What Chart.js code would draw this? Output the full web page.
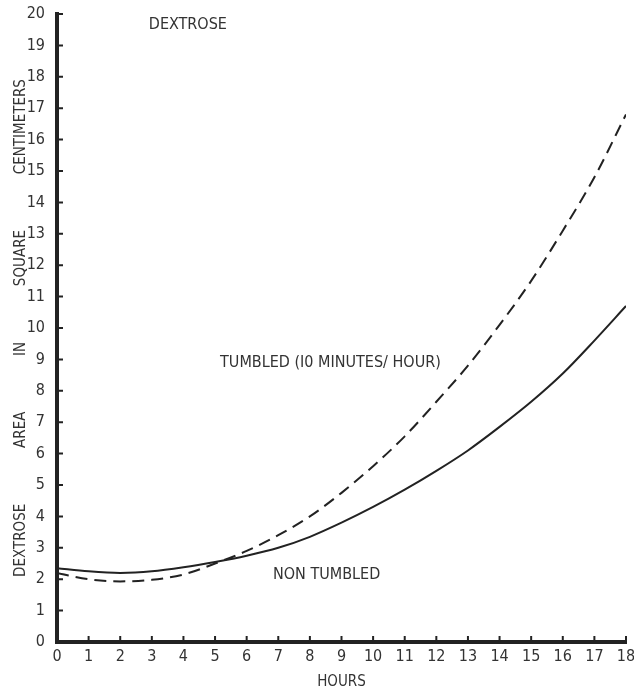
<!DOCTYPE html>
<html>
<head>
<meta charset="utf-8">
<title>Dextrose area</title>
<script src="https://cdn.jsdelivr.net/npm/chart.js@4.4.1/dist/chart.umd.min.js"></script>
<style>
  html, body { margin: 0; padding: 0; background: #fff; }
  #wrap { width: 634px; height: 691px; }
</style>
</head>
<body>
<div id="wrap"><canvas id="dextrose-chart" width="634" height="691"></canvas></div>
<script>
// hours sampled along both curves
const hours = [0, 1, 2, 3, 4, 5, 6, 7, 8, 9, 10, 11, 12, 13, 14, 15, 16, 17, 18];
const nonTumbled = [2.35, 2.25, 2.2, 2.25, 2.38, 2.55, 2.75, 3.0, 3.35, 3.8, 4.3, 4.85, 5.45, 6.1, 6.85, 7.65, 8.55, 9.6, 10.7];
const tumbled = [2.2, 2.0, 1.93, 1.98, 2.15, 2.5, 2.9, 3.4, 4.0, 4.75, 5.6, 6.55, 7.65, 8.8, 10.1, 11.5, 13.1, 14.8, 16.8];

// text labels placed in data units (hours, cm²)
const notes = [
  { text: 'DEXTROSE', x: 4.14, y: 19.65 },
  { text: 'TUMBLED (I0 MINUTES/ HOUR)', x: 8.65, y: 8.9 },
  { text: 'NON TUMBLED', x: 8.53, y: 2.13 }
];
const yTitleWords = ['DEXTROSE', 'AREA', 'IN', 'SQUARE', 'CENTIMETERS'];

const FONT = '"DejaVu Sans Condensed", "DejaVu Sans", sans-serif';
const INK = '#222';
const TEXT = '#333';

const canvas = document.getElementById('dextrose-chart');
const ctx = canvas.getContext('2d');

// short tick marks pointing into the plot area
const inwardTicks = {
  id: 'inwardTicks',
  afterDraw(chart) {
    const { ctx, scales: { x, y } } = chart;
    ctx.save();
    ctx.strokeStyle = INK;
    ctx.lineWidth = 2;
    ctx.beginPath();
    x.ticks.forEach((t, i) => {
      if (i === 0) return;
      const px = x.getPixelForTick(i);
      ctx.moveTo(px, y.bottom);
      ctx.lineTo(px, y.bottom - 6);
    });
    y.ticks.forEach((t, i) => {
      if (i === 0) return;
      const py = y.getPixelForTick(i);
      ctx.moveTo(x.left, py);
      ctx.lineTo(x.left + 6, py);
    });
    ctx.stroke();
    ctx.restore();
  }
};

const notesPlugin = {
  id: 'notes',
  afterDatasetsDraw(chart) {
    const { ctx, scales: { x, y } } = chart;
    ctx.save();
    ctx.fillStyle = TEXT;
    ctx.font = '16px ' + FONT;
    ctx.textAlign = 'center';
    ctx.textBaseline = 'middle';
    notes.forEach(n => ctx.fillText(n.text, x.getPixelForValue(n.x), y.getPixelForValue(n.y)));
    ctx.restore();
  }
};

new Chart(ctx, {
  type: 'line',
  data: {
    labels: hours,
    datasets: [
      {
        label: 'Non tumbled',
        data: hours.map((h, i) => ({ x: h, y: nonTumbled[i] })),
        borderColor: INK,
        borderWidth: 2,
        pointRadius: 0,
        fill: false,
        cubicInterpolationMode: 'monotone'
      },
      {
        label: 'Tumbled (10 minutes/hour)',
        data: hours.map((h, i) => ({ x: h, y: tumbled[i] })),
        borderColor: INK,
        borderWidth: 2,
        borderDash: [12, 7],
        pointRadius: 0,
        fill: false,
        cubicInterpolationMode: 'monotone'
      }
    ]
  },
  options: {
    responsive: false,
    animation: false,
    layout: { padding: { top: 14, right: 8, left: 0, bottom: 0 } },
    plugins: {
      legend: { display: false },
      tooltip: { enabled: false }
    },
    scales: {
      x: {
        type: 'linear',
        min: 0,
        max: 18,
        grid: { display: false, drawTicks: false },
        border: { display: true, color: INK, width: 4 },
        ticks: { stepSize: 1, color: TEXT, padding: 5, font: { family: FONT, size: 16 } },
        title: { display: true, text: 'HOURS', color: TEXT, padding: { top: 3, bottom: 0 }, font: { family: FONT, size: 15 } },
        afterFit: s => { s.height = 49; s.paddingLeft = 0; s.paddingRight = 0; }
      },
      y: {
        min: 0,
        max: 20,
        grid: { display: false, drawTicks: false },
        border: { display: true, color: INK, width: 4 },
        ticks: { stepSize: 1, color: TEXT, padding: 12, font: { family: FONT, size: 16 } },
        title: {
          display: true,
          text: yTitleWords.join('             '),
          color: TEXT,
          padding: { top: 12, bottom: 0 },
          font: { family: FONT, size: 15 }
        },
        afterFit: s => { s.width = 57; s.paddingTop = 0; s.paddingBottom = 0; }
      }
    }
  },
  plugins: [inwardTicks, notesPlugin]
});
</script>
</body>
</html>
